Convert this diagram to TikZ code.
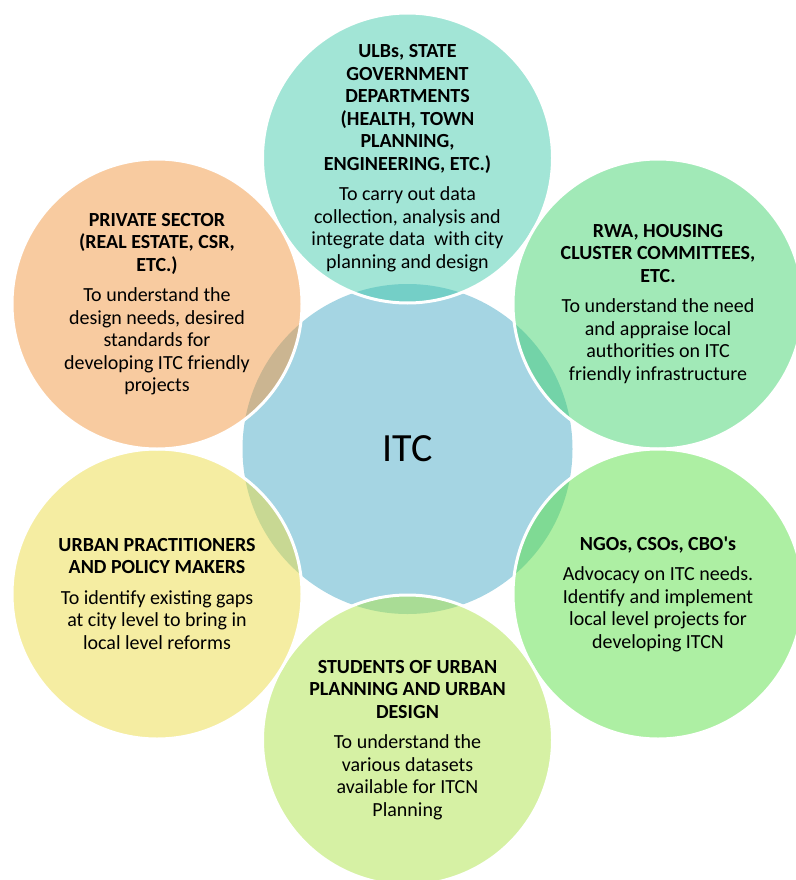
\documentclass[tikz,border=0pt]{standalone}
\usepackage{fontspec}
\setmainfont{Carlito}
\newfontfamily\rawfont{Carlito}
\definecolor{itcblue}{RGB}{165,213,227}
\definecolor{cTop}{RGB}{69,203,173}
\definecolor{cOrange}{RGB}{241,151,65}
\definecolor{cRwa}{RGB}{67,211,111}
\definecolor{cNgo}{RGB}{91,223,71}
\definecolor{cStud}{RGB}{173,227,73}
\definecolor{cYellow}{RGB}{235,219,69}
\begin{document}
\begin{tikzpicture}[x=1pt,y=-1pt,
  ring/.style={circle, minimum size=290pt, inner sep=0pt, fill opacity=0.5, draw=white, draw opacity=1, line width=3pt},
  lbl/.style={align=center, font=\fontsize{20}{22.5}\selectfont, text=black, inner sep=0pt},
]
\useasboundingbox (0,0) rectangle (795,880);
\node[circle, minimum size=330pt, inner sep=0pt, fill=itcblue, font=\fontsize{40}{44}\selectfont] (itc) at (407.5,449) {ITC};
\node[ring, fill=cTop] (top) at (407.5,158) {};
\node[ring, fill=cRwa] (rwa) at (658,304) {};
\node[ring, fill=cNgo] (ngo) at (658,594) {};
\node[ring, fill=cStud] (stud) at (407.5,740) {};
\node[ring, fill=cYellow] (urb) at (157,594) {};
\node[ring, fill=cOrange] (priv) at (157,304) {};

\node[lbl] (tTop) at (top) {\textbf{ULBs, STATE}\\\textbf{GOVERNMENT}\\\textbf{DEPARTMENTS}\\\textbf{(HEALTH, TOWN}\\\textbf{PLANNING,}\\\textbf{ENGINEERING, ETC.)}\\[8pt]To carry out data\\collection, analysis and\\integrate data~ with city\\planning and design};
\node[lbl] (tRwa) at (rwa) {\textbf{RWA, HOUSING}\\\textbf{CLUSTER COMMITTEES,}\\\textbf{ETC.}\\[8pt]To understand the need\\and appraise local\\authorities on ITC\\friendly infrastructure};
\node[lbl] (tNgo) at (ngo) {\textbf{NGOs, CSOs, CBO{\rawfont\bfseries '}s}\\[8pt]Advocacy on ITC needs.\\Identify and implement\\local level projects for\\developing ITCN};
\node[lbl] (tStud) at (stud) {\textbf{STUDENTS OF URBAN}\\\textbf{PLANNING AND URBAN}\\\textbf{DESIGN}\\[8pt]To understand the\\various datasets\\available for ITCN\\Planning};
\node[lbl] (tUrb) at (urb) {\textbf{URBAN PRACTITIONERS}\\\textbf{AND POLICY MAKERS}\\[8pt]To identify existing gaps\\at city level to bring in\\local level reforms};
\node[lbl] (tPriv) at (priv) {\textbf{PRIVATE SECTOR}\\\textbf{(REAL ESTATE, CSR,}\\\textbf{ETC.)}\\[8pt]To understand the\\design needs, desired\\standards for\\developing ITC friendly\\projects};
\end{tikzpicture}
\end{document}
